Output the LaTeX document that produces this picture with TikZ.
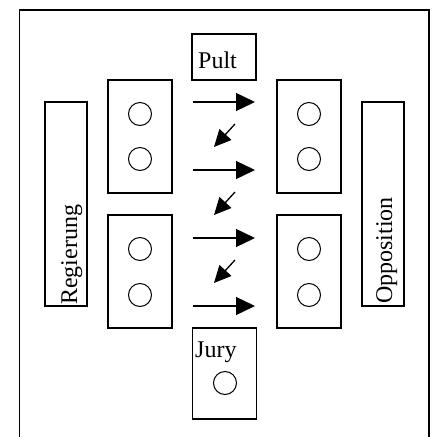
\documentclass[tikz,border=0pt]{standalone}
\usepackage{fontspec}
\setmainfont{Liberation Serif}
\usetikzlibrary{arrows.meta}
\tikzset{
  frameline/.style={line width=1.2pt},
  boxnode/.style={draw, line width=1.2pt, inner sep=0pt, outer sep=0pt},
  seat/.style={circle, draw, line width=1pt, minimum size=23pt, inner sep=0pt},
  lbl/.style={font=\fontsize{24}{28}\selectfont, inner sep=0pt},
  flow/.style={line width=1.3pt, -{Triangle[length=19pt, width=18pt]}},
  back/.style={line width=1.3pt, -{Triangle[length=17pt, width=16pt]}}
}
\begin{document}
\begin{tikzpicture}[x=1pt, y=-1pt]
\useasboundingbox (0,0) rectangle (437,437);
% outer frame (open at the bottom)
\draw[frameline] (19.5,437) -- (19.5,10) -- (429,10) -- (429,437);
% boxes
\node[boxnode, minimum width=64pt, minimum height=46pt] (pult) at (224,57) {};
\node[boxnode, minimum width=64pt, minimum height=113pt] (lu) at (140,136.5) {};
\node[boxnode, minimum width=64pt, minimum height=113pt] (ll) at (140,271.5) {};
\node[boxnode, minimum width=64pt, minimum height=113pt] (ru) at (309,136.5) {};
\node[boxnode, minimum width=64pt, minimum height=113pt] (rl) at (309,271.5) {};
\node[boxnode, minimum width=42pt, minimum height=204pt] (reg) at (66,204) {};
\node[boxnode, minimum width=42pt, minimum height=204pt] (opp) at (383,204) {};
\node[boxnode, minimum width=64pt, minimum height=91pt] (jury) at (224.5,373.5) {};
% texts
\node[lbl, anchor=base west] (pulttext) at (198,68) {Pult};
\node[lbl, anchor=base west] (jurytext) at (195,357) {Jury};
\node[lbl, anchor=base west, rotate=90] (regtext) at (77,305) {Regierung};
\node[lbl, anchor=base west, rotate=90] (opptext) at (392,304) {Opposition};
% seats
\node[seat] (lu1) at (140,114) {};
\node[seat] (lu2) at (140,159) {};
\node[seat] (ll1) at (140,249) {};
\node[seat] (ll2) at (140,295) {};
\node[seat] (ru1) at (309,114) {};
\node[seat] (ru2) at (309,159) {};
\node[seat] (rl1) at (309,249) {};
\node[seat] (rl2) at (309,295) {};
\node[seat] (j1) at (225,383) {};
% arrow end points
\coordinate (a1s) at (192.5,102);
\coordinate (a1e) at (255,102);
\coordinate (a2s) at (192.5,170);
\coordinate (a2e) at (255,170);
\coordinate (a3s) at (192.5,238);
\coordinate (a3e) at (255,238);
\coordinate (a4s) at (192.5,306);
\coordinate (a4e) at (255,306);
\coordinate (b1s) at (235,124);
\coordinate (b1e) at (214,147);
\coordinate (b2s) at (235,192);
\coordinate (b2e) at (214,215);
\coordinate (b3s) at (235,260);
\coordinate (b3e) at (214,283);
\draw[flow] (a1s) -- (a1e);
\draw[flow] (a2s) -- (a2e);
\draw[flow] (a3s) -- (a3e);
\draw[flow] (a4s) -- (a4e);
\draw[back] (b1s) -- (b1e);
\draw[back] (b2s) -- (b2e);
\draw[back] (b3s) -- (b3e);
\end{tikzpicture}
\end{document}
